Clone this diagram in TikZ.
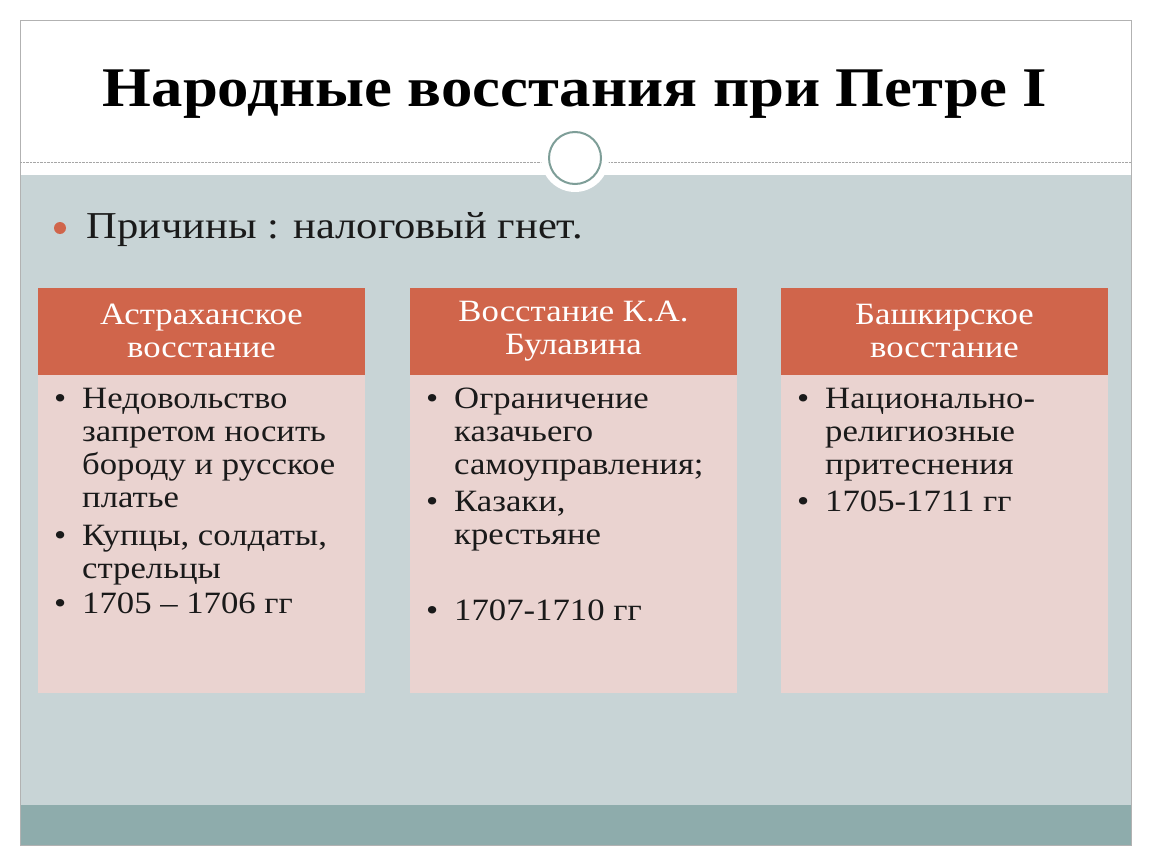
\documentclass[tikz,border=0pt]{standalone}
\usepackage{fontspec}
\setmainfont{Liberation Serif}[FakeStretch=1.12]
\begin{document}
\begin{tikzpicture}[x=1pt,y=-1pt,
  htxt/.style={text=white,font=\fontsize{31}{33}\selectfont,align=center},
  item/.style={anchor=north west,text=textc,font=\fontsize{31}{33}\selectfont,align=left,inner sep=0pt}]
\definecolor{hdrc}{HTML}{D0654B}
\definecolor{bodyc}{HTML}{EAD3D0}
\definecolor{bgc}{HTML}{C8D4D6}
\definecolor{stripc}{HTML}{8EACAC}
\definecolor{textc}{HTML}{1A1A1A}
\definecolor{ringc}{HTML}{7E9E98}
\newcommand{\bl}{\makebox[28pt][l]{•}}
\newcommand{\ind}{\hspace*{28pt}}
\useasboundingbox (0,0) rectangle (1150,864);
\fill[white] (0,0) rectangle (1150,864);
\fill[bgc] (20,175) rectangle (1131,805);
\fill[stripc] (20,805) rectangle (1131,845);
\draw[gray!60] (20,20) rectangle (1131,845);
\draw[gray!70,densely dotted] (20,162) -- (1131,162);
\fill[white] (575,158) circle (34);
\draw[ringc,line width=2pt] (575,158) circle (26);
\node (title) at (575,94) {\fontsize{56}{64}\selectfont\bfseries Народные восстания при Петре I};
\fill[hdrc] (60,228) circle (6);
\node[anchor=west,text=textc] (cause) at (83,230) {\fontsize{38}{44}\selectfont Причины : налоговый гнет.};
\foreach \x in {38,410,781}{
  \fill[bodyc] (\x,375) rectangle ++(327,318);
  \fill[hdrc] (\x,288) rectangle ++(327,87);
}
\node[htxt] (ha) at (201.5,331) {Астраханское\\восстание};
\node[htxt] (hb) at (573.5,331) {Восстание К.А.\\Булавина};
\node[htxt] (hc) at (944.5,331) {Башкирское\\восстание};
\node[item] (a1) at (54,388) {\bl Недовольство\\\ind запретом носить\\\ind бороду и русское\\\ind платье};
\node[item] (a2) at (54,525) {\bl Купцы, солдаты,\\\ind стрельцы};
\node[item] (a3) at (54,593) {\bl 1705 – 1706 гг};
\node[item] (b1) at (426,388) {\bl Ограничение\\\ind казачьего\\\ind самоуправления;};
\node[item] (b2) at (426,491) {\bl Казаки,\\\ind крестьяне};
\node[item] (b3) at (426,600) {\bl 1707-1710 гг};
\node[item] (c1) at (797,388) {\bl Национально-\\\ind религиозные\\\ind притеснения};
\node[item] (c2) at (797,491) {\bl 1705-1711 гг};
\end{tikzpicture}
\end{document}
